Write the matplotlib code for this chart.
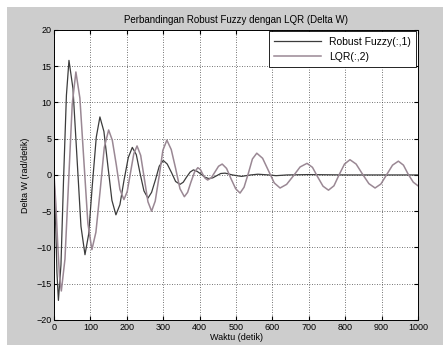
import matplotlib.pyplot as plt
from matplotlib.patches import Rectangle

plt.rcParams.update({
    "font.family": ["Liberation Sans", "DejaVu Sans"],
    "font.size": 6.5,
})

# Robust Fuzzy(:,1)
t_rf = [0, 4, 8, 12, 19, 26, 34, 41, 52, 63, 74, 85, 95, 105, 116, 126,
        137, 148, 159, 170, 181, 192, 204, 215, 226, 236, 247, 258, 268, 279,
        289, 300, 311, 323, 334, 346, 355, 364, 374, 383, 393, 404, 414, 425,
        436, 447, 458, 470, 490, 515, 540, 560, 590, 610, 640, 700, 800, 900, 1000]
v_rf = [0, -6, -13.5, -17.3, -12.4, -0.8, 11.0, 15.8, 11.9, 2.4, -7.1, -11.0, -8.2, -1.5, 5.2, 8.0,
        6.0, 1.2, -3.5, -5.5, -4.1, -0.8, 2.4, 3.8, 2.8, 0.3, -2.2, -3.2, -2.4, -0.6,
        1.2, 2.0, 1.5, 0.3, -0.9, -1.3, -1.0, -0.3, 0.4, 0.7, 0.5, 0.1, -0.3, -0.5,
        -0.4, -0.1, 0.2, 0.25, 0.0, -0.2, 0.0, 0.1, 0.0, -0.1, 0.0, 0.05, 0.0, 0.0, 0.0]

# LQR(:,2)
t_lqr = [0, 5, 10, 15, 20, 30, 40, 50, 60, 71, 82, 93, 104, 115, 127, 138, 150,
         160, 171, 181, 192, 201, 210, 219, 228, 238, 248, 258, 268, 278, 289, 299,
         310, 322, 334, 346, 358, 367, 376, 386, 395, 402, 408, 415, 422, 432, 442,
         452, 462, 474, 486, 499, 511, 522, 534, 545, 557, 573, 589, 605, 621, 639,
         658, 676, 695, 710, 724, 739, 754, 769, 783, 798, 813, 830, 847, 865, 882,
         898, 914, 930, 946, 960, 973, 987, 1000]
v_lqr = [0, -4, -9.5, -14, -16.0, -11.6, -0.9, 9.8, 14.2, 10.6, 1.9, -6.7, -10.3, -7.9, -2.0, 3.8, 6.2,
         4.8, 1.4, -2.0, -3.4, -2.3, 0.3, 2.9, 4.0, 2.7, -0.5, -3.7, -5.0, -3.6, -0.1, 3.4,
         4.8, 3.5, 0.9, -1.9, -3.0, -2.4, -1.0, 0.4, 1.0, 0.75, 0.15, -0.45, -0.7, -0.4, 0.4,
         1.2, 1.5, 0.9, -0.5, -1.9, -2.5, -1.7, 0.25, 2.2, 3.0, 2.3, 0.6, -1.1, -1.8, -1.3,
         -0.1, 1.1, 1.6, 1.05, -0.25, -1.55, -2.1, -1.5, 0.0, 1.5, 2.1, 1.5, 0.15, -1.2, -1.8,
         -1.25, 0.05, 1.35, 1.9, 1.35, 0.1, -1.0, -1.5]

x_ticks = list(range(0, 1001, 100))
y_ticks = list(range(-20, 21, 5))

fig = plt.figure(figsize=(4.43, 3.52), dpi=100, facecolor="white")
# matlab grey figure background (white strip round the edges of the screenshot)
fig.patches.append(Rectangle((0.016, 0.02), 0.984, 0.96, transform=fig.transFigure,
                             facecolor="#cdcdcd", edgecolor="none", zorder=-10))

ax = fig.add_axes([0.122, 0.091, 0.8216, 0.824])
ax.plot(t_rf, v_rf, color="#3c3c3c", lw=0.9, label="Robust Fuzzy(:,1)")
ax.plot(t_lqr, v_lqr, color="#9a8894", lw=1.1, label="LQR(:,2)")

ax.set_xlim(0, 1000)
ax.set_ylim(-20, 20)
ax.set_xticks(x_ticks)
ax.set_yticks(y_ticks)
ax.grid(True, color="#444444", linestyle=(0, (1, 2)), lw=0.6)
ax.tick_params(direction="in", length=3, top=True, right=True, labelsize=6.5, pad=2)
for s in ax.spines.values():
    s.set_linewidth(0.7)

ax.set_title("Perbandingan Robust Fuzzy dengan LQR (Delta W)", fontsize=7, pad=5)
ax.set_xlabel("Waktu (detik)", fontsize=6.5, labelpad=1)
ax.set_ylabel("Delta W (rad/detik)", fontsize=6.5, labelpad=4)

leg = ax.legend(loc="upper right", fontsize=7.5, fancybox=False, edgecolor="black",
                framealpha=1, handlelength=4.5, borderaxespad=0.15, labelspacing=0.5,
                borderpad=0.5)
leg.get_frame().set_linewidth(0.6)

plt.savefig("out.png", dpi=100, facecolor=fig.get_facecolor())
